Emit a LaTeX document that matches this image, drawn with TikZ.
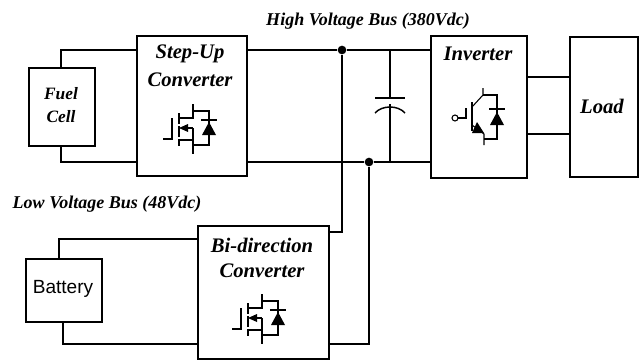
\documentclass[tikz,border=0pt]{standalone}
\usepackage{fontspec}
\setmainfont{Liberation Serif}
\setsansfont{Liberation Sans}
\usetikzlibrary{positioning}
\tikzset{
  blok/.style={draw, line width=1.2pt, inner sep=0pt, anchor=north west, align=center},
  wire/.style={line width=1.1pt},
  part/.style={line width=0.8pt},
  junction/.style={circle, fill, inner sep=0pt, minimum size=6.5pt},
  kop/.style={font=\bfseries\itshape\fontsize{15.5}{18}\selectfont, inner sep=0pt},
  kopklein/.style={font=\bfseries\itshape\fontsize{13}{15}\selectfont, inner sep=0pt},
  buslabel/.style={font=\bfseries\itshape\fontsize{13.5}{15}\selectfont, inner sep=0pt},
  pics/mosfet/.style={code={
    \draw[part] (-16,11) -- (-7,11) -- (-7,-10);
    \draw[part] (0,-15) -- (0,-4) (0,-2) -- (0,9) (0,11) -- (0,18);
    \draw[part] (14,-24) -- (14,-10) -- (0,-10);
    \draw[part] (0,12) -- (14,12) (14,3) -- (14,26);
    \draw[part] (14,0) -- (14,9);
    \draw[part] (14,0) -- (5,0);
    \fill (0,0) -- (9,-4) -- (9,4) -- cycle;
    \draw[part] (14,-17) -- (30,-17) -- (30,17) -- (14,17);
    \fill (23,7) -- (37,7) -- (30,-6) -- cycle;
    \draw[part] (22,-8) -- (38,-8);
  }}
}
\begin{document}
\begin{tikzpicture}[x=0.75pt, y=-0.75pt]
  \useasboundingbox (0,0) rectangle (641,360);

  % Blokken
  \node[blok, minimum width=49.5pt, minimum height=58.5pt] (fuel) at (28,67) {};
  \node[blok, minimum width=82.5pt, minimum height=105pt] (stepup) at (136,35) {};
  \node[blok, minimum width=72pt, minimum height=106.5pt] (inverter) at (430,35) {};
  \node[blok, minimum width=51pt, minimum height=105pt] (load) at (569,36) {};
  \node[blok, minimum width=57pt, minimum height=47.25pt] (battery) at (25,258) {};
  \node[blok, minimum width=98.25pt, minimum height=99.75pt] (bidir) at (197,225) {};

  % Teksten
  \node[kopklein] (fueltxt) at (61,94) {Fuel};
  \node[kopklein] (celltxt) at (61,117) {Cell};
  \node[kop] (steptxt) at (190,54) {Step-Up};
  \node[kop] (convtxt) at (190,80) {Converter};
  \node[kop] (invtxt) at (478,54) {Inverter};
  \node[kop] (loadtxt) at (602,106) {Load};
  \node[kop] (bitxt) at (262,245) {Bi-direction};
  \node[kop] (bconvtxt) at (262,271) {Converter};
  \node[font=\sffamily\fontsize{14.3}{16}\selectfont, inner sep=0pt] (battxt) at (63,289) {Battery};
  \node[buslabel] (hvbus) at (368,21) {High Voltage Bus (380Vdc)};
  \node[buslabel] (lvbus) at (107,204) {Low Voltage Bus (48Vdc)};

  % Knooppunten
  \node[junction] (jtop) at (342,50) {};
  \node[junction] (jbot) at (369,162) {};
  \coordinate (sutop) at (136,50);
  \coordinate (subot) at (136,162);
  \coordinate (suouttop) at (246,50);
  \coordinate (suoutbot) at (246,162);
  \coordinate (invtop) at (430,50);
  \coordinate (invbot) at (430,162);
  \coordinate (captop) at (390,50);
  \coordinate (capbot) at (390,162);
  \coordinate (capa) at (390,98);
  \coordinate (capb) at (390,104);

  % Verbindingen
  \draw[wire] (fuel.north) ++(-1,0) |- (sutop);
  \draw[wire] (fuel.south) ++(-1,0) |- (subot);
  \draw[wire] (suouttop) -- (jtop) -- (invtop);
  \draw[wire] (suoutbot) -- (jbot) -- (invbot);
  \draw[wire] (inverter.east |- 0,77) -- (load.west |- 0,77);
  \draw[wire] (inverter.east |- 0,134) -- (load.west |- 0,134);
  \draw[wire] (59,258) |- (bidir.west |- 0,239);
  \draw[wire] (63,321) |- (bidir.west |- 0,344);
  \draw[wire] (bidir.east |- 0,232) -| (jtop);
  \draw[wire] (bidir.east |- 0,344) -| (jbot);

  % Condensator
  \draw[wire] (captop) -- (capa);
  \draw[wire] (capb) -- (capbot);
  \draw[wire] (375,98) -- (405,98);
  \draw[wire] (375,113) .. controls (382,105) and (398,105) .. (405,113);

  % Schakelaars
  \pic at (179,128) {mosfet};
  \pic at (248,318) {mosfet};

  % IGBT
  \draw[part] (455,118) circle (3);
  \draw[part] (458,118) -- (466,118) -- (466,108);
  \draw[line width=1.1pt] (472,102) -- (472,131);
  \draw[part] (483,88) -- (483,95) -- (472,107);
  \draw[part] (472,125) -- (484,134) -- (484,145);
  \fill (484,133) -- (472,133) -- (477,122) -- cycle;
  \draw[part] (483,95) -- (497,95) -- (497,139) -- (484,139);
  \fill (490,125) -- (504,125) -- (497,112) -- cycle;
  \draw[part] (489,109) -- (505,109);
\end{tikzpicture}
\end{document}
